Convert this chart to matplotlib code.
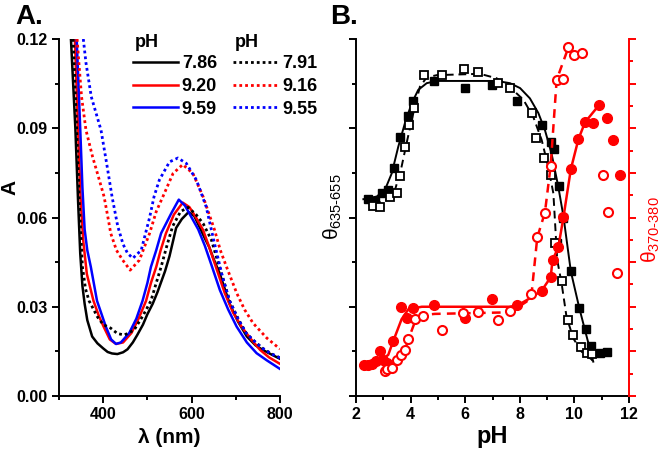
import matplotlib
matplotlib.use('Agg')
import matplotlib.pyplot as plt
import numpy as np

plt.rcParams['font.family'] = ['Liberation Sans', 'DejaVu Sans']
plt.rcParams['font.weight'] = 'bold'
plt.rcParams['mathtext.fontset'] = 'custom'
plt.rcParams['mathtext.rm'] = 'Liberation Sans:weight=normal'
plt.rcParams['mathtext.it'] = 'Liberation Sans:weight=normal'

# ---- panel A: absorbance spectra ----
wl_786 = [327, 337, 343, 348, 353, 358, 364, 375, 387, 400, 410, 420, 432, 445, 455, 467, 477, 490, 500,
          512, 523, 540, 550, 565, 578, 593, 606, 618, 630, 640, 650, 664, 686, 705, 725, 745, 761, 780, 800]
a_786 = [0.120, 0.090, 0.066, 0.048, 0.037, 0.031, 0.0255, 0.020, 0.0177, 0.016, 0.0148, 0.0143, 0.0141,
         0.0147, 0.0157, 0.018, 0.0205, 0.024, 0.0275, 0.031, 0.035, 0.042, 0.047, 0.0565, 0.0595, 0.0618,
         0.0605, 0.0568, 0.053, 0.050, 0.046, 0.041, 0.031, 0.025, 0.020, 0.017, 0.0155, 0.014, 0.0125]

wl_920 = [336, 343, 349, 355, 363, 378, 390, 401, 415, 429, 445, 464, 480, 497, 508, 520, 530, 542, 560,
          580, 595, 610, 626, 640, 652, 675, 694, 713, 735, 755, 775, 800]
a_920 = [0.120, 0.090, 0.066, 0.052, 0.041, 0.032, 0.027, 0.0233, 0.019, 0.0175, 0.018, 0.0212, 0.026,
         0.032, 0.038, 0.0434, 0.049, 0.0547, 0.061, 0.065, 0.0635, 0.060, 0.0558, 0.050, 0.0447, 0.0346,
         0.028, 0.0233, 0.019, 0.0155, 0.013, 0.0108]

wl_959 = [340, 348, 353, 358, 364, 372, 386, 406, 418, 429, 440, 459, 475, 489, 500, 508, 520, 531, 554,
          571, 585, 600, 615, 630, 645, 664, 683, 702, 725, 747, 770, 800]
a_959 = [0.120, 0.090, 0.070, 0.056, 0.049, 0.0434, 0.032, 0.0233, 0.019, 0.0175, 0.018, 0.0212, 0.026,
         0.032, 0.038, 0.0434, 0.049, 0.0547, 0.0614, 0.066, 0.064, 0.060, 0.056, 0.0505, 0.044, 0.0356,
         0.029, 0.0233, 0.018, 0.0144, 0.012, 0.0091]

wl_791 = [332, 340, 346, 353, 360, 368, 387, 400, 417, 432, 448, 470, 490, 508, 520, 531, 545, 557, 575,
          592, 610, 626, 645, 656, 670, 686, 705, 724, 745, 761, 780, 800]
a_791 = [0.120, 0.090, 0.065, 0.0434, 0.036, 0.032, 0.0266, 0.024, 0.0228, 0.021, 0.0205, 0.0222, 0.027,
         0.032, 0.038, 0.0434, 0.051, 0.057, 0.062, 0.0634, 0.061, 0.058, 0.0524, 0.0468, 0.040, 0.032,
         0.026, 0.021, 0.018, 0.016, 0.0142, 0.0128]

wl_916 = [341, 345, 351, 361, 376, 387, 402, 412, 417, 430, 444, 461, 482, 505, 520, 535, 558, 580, 603,
          626, 652, 665, 679, 702, 720, 739, 770, 800]
a_916 = [0.120, 0.112, 0.1006, 0.0894, 0.0804, 0.0748, 0.067, 0.059, 0.0547, 0.049, 0.0457, 0.0423,
         0.0457, 0.0547, 0.062, 0.067, 0.0748, 0.0778, 0.0748, 0.067, 0.0558, 0.049, 0.0434, 0.0346, 0.029,
         0.0245, 0.0195, 0.0158]

wl_955 = [355, 361, 373, 395, 408, 420, 433, 445, 455, 467, 486, 505, 515, 527, 550, 569, 588, 611, 633,
          650, 670, 686, 705, 724, 745, 761, 780, 800]
a_955 = [0.120, 0.112, 0.1006, 0.0894, 0.078, 0.067, 0.057, 0.051, 0.048, 0.0463, 0.049, 0.060, 0.067,
         0.0726, 0.0787, 0.080, 0.0782, 0.0726, 0.0636, 0.0524, 0.040, 0.032, 0.026, 0.021, 0.018, 0.016,
         0.0142, 0.0128]

# ---- panel B: titration ----
ph_ks = [2.43, 2.70, 2.94, 3.16, 3.40, 3.61, 3.89, 4.10, 4.87, 5.99, 6.99, 7.89, 8.80, 9.13, 9.26, 9.43,
         9.35, 9.60, 9.87, 10.18, 10.41, 10.60, 10.94, 11.20]
th_ks = [4.42, 4.36, 4.54, 4.62, 5.10, 5.80, 6.28, 6.60, 7.05, 6.91, 6.97, 6.61, 6.08, 5.70, 5.53, 4.71,
         3.42, 3.98, 2.79, 1.97, 1.50, 1.12, 0.97, 0.99]
ph_ko = [2.63, 2.88, 3.25, 3.49, 3.61, 3.79, 3.94, 4.12, 4.50, 5.14, 5.97, 6.48, 7.19, 7.64, 8.43, 8.61,
         8.88, 9.16, 9.29, 9.53, 9.78, 9.96, 10.24, 10.45, 10.63]
th_ko = [4.26, 4.24, 4.47, 4.54, 4.93, 5.59, 6.08, 6.45, 7.20, 7.20, 7.33, 7.26, 7.01, 6.90, 6.34, 5.78,
         5.33, 4.96, 3.42, 2.58, 1.70, 1.37, 1.09, 0.97, 0.93]
ph_kfit = [2.27, 2.76, 3.06, 3.31, 3.55, 3.79, 4.04, 4.28, 4.59, 4.96, 7.15, 7.64, 8.01, 8.37, 8.68, 8.92,
           9.16, 9.41, 9.60, 9.87, 10.18, 10.45, 10.69]
th_kfit = [4.41, 4.47, 4.62, 4.99, 5.59, 6.11, 6.56, 6.86, 7.01, 7.06, 7.06, 7.01, 6.90, 6.67, 6.34, 5.96,
           5.44, 4.69, 4.02, 2.79, 1.97, 1.33, 0.77]
ph_kdash = [2.63, 3.12, 3.43, 3.67, 3.88, 4.10, 4.34, 4.59, 4.96, 6.54, 7.15, 7.64, 8.13, 8.49, 8.80, 9.04,
            9.23, 9.37, 9.53, 9.71, 9.96, 10.27, 10.63, 10.71]
th_kdash = [4.30, 4.39, 4.62, 5.14, 5.74, 6.34, 6.93, 7.14, 7.19, 7.22, 7.12, 6.92, 6.64, 6.26, 5.74, 5.14,
            4.54, 3.05, 2.53, 1.78, 1.29, 0.99, 0.82, 0.75]

ph_rs = [2.30, 2.45, 2.60, 2.75, 2.88, 3.00, 3.12, 3.37, 3.65, 3.86, 4.10, 4.86, 5.99, 6.97, 7.89, 8.80,
         9.13, 9.20, 9.41, 9.60, 9.87, 10.15, 10.39, 10.69, 10.91, 11.20, 11.43, 11.67]
th_rs = [1.38, 1.40, 1.45, 1.55, 2.03, 1.60, 1.47, 2.48, 4.00, 3.48, 3.93, 4.08, 3.48, 4.34, 4.08, 4.72,
         5.32, 6.10, 6.66, 8.02, 10.17, 11.52, 12.27, 12.23, 13.05, 12.45, 11.48, 9.91]
ph_ro = [3.06, 3.12, 3.31, 3.49, 3.64, 3.80, 3.92, 4.16, 4.47, 5.14, 5.92, 6.48, 7.19, 7.64, 8.40, 8.64,
         8.92, 9.13, 9.35, 9.57, 9.78, 9.99, 10.27, 11.03, 11.24, 11.55]
th_ro = [1.13, 1.20, 1.24, 1.61, 1.84, 2.06, 2.54, 3.44, 3.59, 2.96, 3.72, 3.78, 3.41, 3.83, 4.55, 7.11,
         8.22, 10.31, 14.17, 14.20, 15.62, 15.29, 15.37, 9.91, 8.26, 5.52]
ph_rfit = [2.27, 2.82, 3.18, 3.37, 3.67, 3.92, 4.41, 7.60, 7.90, 8.37, 8.80, 9.13, 9.20, 9.41, 9.60, 9.87,
           10.15, 10.39, 10.91]
th_rfit = [1.35, 1.54, 1.84, 2.48, 3.44, 3.89, 4.00, 4.00, 4.05, 4.38, 4.72, 5.32, 6.10, 6.66, 8.02, 10.17,
           11.52, 12.27, 13.05]
ph_rdash = [3.18, 3.55, 3.79, 3.98, 4.16, 4.47, 4.89, 7.64, 8.25, 8.43, 8.64, 8.92, 9.13, 9.35, 9.78]
th_rdash = [1.20, 1.61, 2.06, 2.74, 3.33, 3.63, 3.68, 3.75, 4.23, 4.57, 7.11, 8.22, 10.31, 14.17, 15.62]

RED = '#ff0000'
BLUE = '#0000ff'

fig = plt.figure(figsize=(6.66, 4.57), dpi=100)

# ---------- A ----------
ax = fig.add_axes([59/666, 61/457, 221/666, 357/457])
lw = 1.8
dots = (0, (1, 1.1))
l1, = ax.plot(wl_786, a_786, color='black', lw=lw)
l2, = ax.plot(wl_920, a_920, color=RED, lw=lw)
l3, = ax.plot(wl_959, a_959, color=BLUE, lw=lw)
l4, = ax.plot(wl_791, a_791, color='black', lw=lw + 0.2, linestyle=dots)
l5, = ax.plot(wl_916, a_916, color=RED, lw=lw + 0.2, linestyle=dots)
l6, = ax.plot(wl_955, a_955, color=BLUE, lw=lw + 0.2, linestyle=dots)

ax.set_xlim(300, 800)
ax.set_ylim(0, 0.12)
ax.set_xticks([400, 600, 800])
ax.set_xticks([300, 500, 700], minor=True)
ax.set_yticks([0, 0.03, 0.06, 0.09, 0.12])
ax.set_yticks([0.015, 0.045, 0.075, 0.105], minor=True)
ax.set_yticklabels(['0.00', '0.03', '0.06', '0.09', '0.12'])
ax.set_xlabel('λ (nm)', fontsize=15, fontweight='bold', labelpad=4)
ax.set_ylabel('A', fontsize=15, fontweight='bold')
ax.yaxis.set_label_coords(-0.178, 0.585)

leg = ax.legend([l1, l2, l3, l4, l5, l6], ['7.86', '9.20', '9.59', '7.91', '9.16', '9.55'],
                ncol=2, frameon=False, loc='upper left', bbox_to_anchor=(0.335, 0.955),
                fontsize=13, handlelength=2.5, handletextpad=0.2, columnspacing=0.9,
                labelspacing=0.32, borderpad=0, borderaxespad=0)
for t in leg.get_texts():
    t.set_fontweight('bold')
ax.text(0.344, 0.99, 'pH', transform=ax.transAxes, fontsize=13, fontweight='bold', va='center')
ax.text(0.797, 0.99, 'pH', transform=ax.transAxes, fontsize=13, fontweight='bold', va='center')

# ---------- B ----------
bx = fig.add_axes([356/666, 61/457, 273/666, 357/457])
bx.plot(ph_kfit, th_kfit, color='black', lw=1.4, zorder=2)
bx.plot(ph_kdash, th_kdash, color='black', lw=1.4, linestyle=(0, (4, 2.5)), zorder=2)
bx.plot(ph_ks, th_ks, linestyle='none', marker='s', ms=6, color='black', zorder=3)
bx.plot(ph_ko, th_ko, linestyle='none', marker='s', ms=5.5, mfc='white', mec='black', mew=1.3, zorder=3)
bx.set_xlim(2, 12)
bx.set_ylim(0, 8)
bx.set_xticks([2, 4, 6, 8, 10, 12])
bx.set_xticks([3, 5, 7, 9, 11], minor=True)
bx.set_yticks([0, 2, 4, 6, 8])
bx.set_yticks([1, 3, 5, 7], minor=True)
bx.set_yticklabels([])
bx.set_xlabel('pH', fontsize=17, fontweight='bold', labelpad=2)
bx.set_ylabel(r'$\theta_{635\text{-}655}$', fontsize=15, fontweight='normal')
bx.yaxis.set_label_coords(-0.045, 0.53)

rx = bx.twinx()
rx.plot(ph_rfit, th_rfit, color=RED, lw=1.8, zorder=2)
rx.plot(ph_rdash, th_rdash, color=RED, lw=1.8, linestyle=(0, (3.5, 2.5)), zorder=2)
rx.plot(ph_rs, th_rs, linestyle='none', marker='o', ms=7, color=RED, zorder=3)
rx.plot(ph_ro, th_ro, linestyle='none', marker='o', ms=6.5, mfc='white', mec=RED, mew=1.5, zorder=3)
rx.set_ylim(0, 16)
rx.set_yticks([0, 2, 4, 6, 8, 10, 12, 14, 16])
rx.set_yticks(np.arange(1, 16, 2), minor=True)
rx.set_yticklabels([])
rx.set_ylabel(r'$\theta_{370\text{-}380}$', fontsize=15, color=RED)
rx.yaxis.set_label_coords(1.04, 0.465)

for a in (ax, bx, rx):
    a.spines['top'].set_visible(False)
    for s in a.spines.values():
        s.set_linewidth(1.4)
    a.tick_params(which='major', direction='out', length=5, width=1.4, labelsize=11.5, pad=3)
    a.tick_params(which='minor', direction='out', length=3, width=1.4)
ax.spines['right'].set_visible(False)
bx.spines['right'].set_visible(False)
rx.spines['left'].set_visible(False)
rx.spines['bottom'].set_visible(False)
rx.spines['right'].set_color(RED)
rx.tick_params(axis='y', which='both', colors=RED)

fig.text(15/666, 1 - 4/457, 'A.', fontsize=20, fontweight='bold', va='top')
fig.text(330/666, 1 - 4/457, 'B.', fontsize=20, fontweight='bold', va='top')

fig.savefig('out.png', dpi=100, facecolor='white')
